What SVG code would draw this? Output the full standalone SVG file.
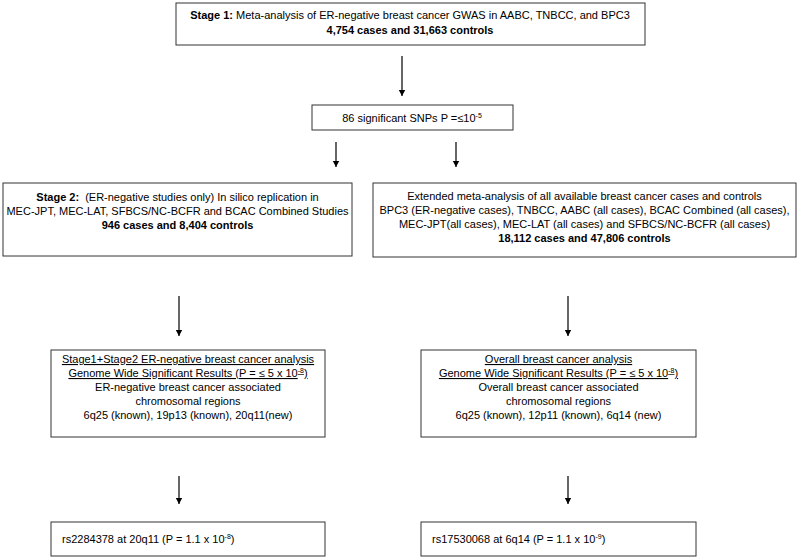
<svg xmlns="http://www.w3.org/2000/svg" width="800" height="560" viewBox="0 0 800 560">
<defs>
<marker id="ah" markerWidth="8" markerHeight="8" refX="6" refY="4" orient="auto" markerUnits="userSpaceOnUse">
<path d="M0,0.8 L6,4 L0,7.2 Z" fill="#000"/>
</marker>
<style>
.box{fill:#fff;stroke:#333;stroke-width:1}
text{font-family:"Liberation Sans",Arial,sans-serif;font-size:11px;fill:#000}
.c{text-anchor:middle}
.b{font-weight:bold}
.u{text-decoration:underline}
.sup{font-size:7px}
.conn line{stroke:#000;stroke-width:1.2;marker-end:url(#ah)}
</style>
</defs>
<rect width="800" height="560" fill="#fff"/>
<g class="conn">
<line x1="402" y1="56" x2="402" y2="96"/>
<line x1="336" y1="142" x2="336" y2="167"/>
<line x1="456" y1="142" x2="456" y2="167"/>
<line x1="179" y1="296" x2="179" y2="336"/>
<line x1="568" y1="296" x2="568" y2="336"/>
<line x1="179" y1="476" x2="179" y2="504"/>
<line x1="568" y1="476" x2="568" y2="504"/>
</g>
<g id="stage1">
<rect class="box" x="176" y="3" width="469" height="42"/>
<text class="c" x="410" y="19"><tspan class="b">Stage 1:</tspan> Meta-analysis of ER-negative breast cancer GWAS in AABC, TNBCC, and BPC3</text>
<text class="c b" x="410" y="34">4,754 cases and 31,663 controls</text>
</g>
<g id="snps">
<rect class="box" x="312" y="105" width="201" height="25"/>
<text class="c" x="412" y="122">86 significant SNPs P =≤10<tspan class="sup" dy="-4">-5</tspan></text>
</g>
<g id="stage2">
<rect class="box" x="3" y="183" width="349" height="73"/>
<text class="c" x="177.5" y="201"><tspan class="b">Stage 2:</tspan><tspan dx="3"> (ER-negative studies only) In silico replication in</tspan></text>
<text class="c" x="177.5" y="215">MEC-JPT, MEC-LAT, SFBCS/NC-BCFR and BCAC Combined Studies</text>
<text class="c b" x="177.5" y="229">946 cases and 8,404 controls</text>
</g>
<g id="extended">
<rect class="box" x="373" y="183" width="423" height="74"/>
<text class="c" x="584.5" y="200">Extended meta-analysis of all available breast cancer cases and controls</text>
<text class="c" x="584.5" y="214">BPC3 (ER-negative cases), TNBCC, AABC (all cases), BCAC Combined (all cases),</text>
<text class="c" x="584.5" y="228">MEC-JPT(all cases), MEC-LAT (all cases) and SFBCS/NC-BCFR (all cases)</text>
<text class="c b" x="584.5" y="242">18,112 cases and 47,806 controls</text>
</g>
<g id="ernegResults">
<rect class="box" x="51" y="350" width="274" height="87"/>
<text class="c u" x="188" y="363">Stage1+Stage2 ER-negative breast cancer analysis</text>
<text class="c u" x="188" y="377">Genome Wide Significant Results (P = ≤ 5 x 10<tspan class="sup" dy="-4">-8</tspan><tspan dy="4">)</tspan></text>
<text class="c" x="188" y="391">ER-negative breast cancer associated</text>
<text class="c" x="188" y="405">chromosomal regions</text>
<text class="c" x="188" y="419">6q25 (known), 19p13 (known), 20q11(new)</text>
</g>
<g id="overallResults">
<rect class="box" x="421" y="350" width="275" height="87"/>
<text class="c u" x="558.5" y="363">Overall breast cancer analysis</text>
<text class="c u" x="558.5" y="377">Genome Wide Significant Results (P = ≤ 5 x 10<tspan class="sup" dy="-4">-8</tspan><tspan dy="4">)</tspan></text>
<text class="c" x="558.5" y="391">Overall breast cancer associated</text>
<text class="c" x="558.5" y="405">chromosomal regions</text>
<text class="c" x="558.5" y="419">6q25 (known), 12p11 (known), 6q14 (new)</text>
</g>
<g id="snpLeft">
<rect class="box" x="51" y="522" width="274" height="34"/>
<text x="62" y="543">rs2284378 at 20q11 (P = 1.1 x 10<tspan class="sup" dy="-4">-8</tspan><tspan dy="4">)</tspan></text>
</g>
<g id="snpRight">
<rect class="box" x="421" y="522" width="275" height="34"/>
<text x="432" y="543">rs17530068 at 6q14 (P = 1.1 x 10<tspan class="sup" dy="-4">-9</tspan><tspan dy="4">)</tspan></text>
</g>
</svg>
